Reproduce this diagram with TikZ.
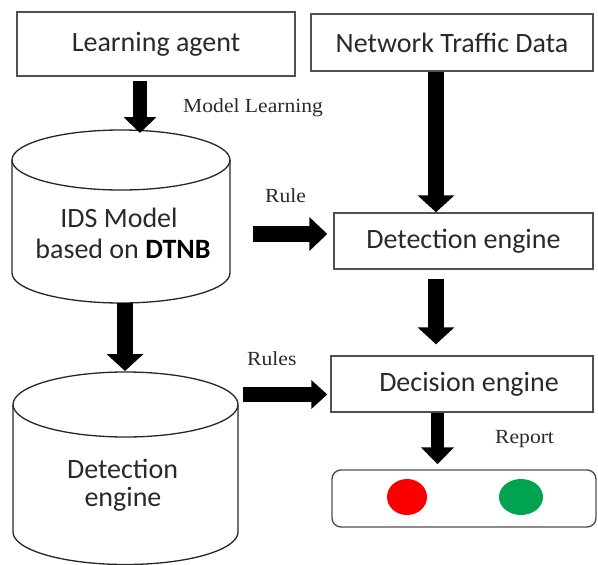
\documentclass[tikz,border=0pt]{standalone}
\usepackage{fontspec}
\setmainfont{Carlito}
\newfontfamily\serlbl{Liberation Serif}[FakeStretch=1.08]
\usetikzlibrary{arrows.meta,calc,shapes.geometric}
\definecolor{bordergray}{RGB}{80,80,80}
\definecolor{textdark}{RGB}{40,40,48}
\definecolor{repgreen}{RGB}{0,164,80}
\definecolor{repred}{RGB}{250,0,0}
\begin{document}
\begin{tikzpicture}[x=1pt,y=-1pt,
  box/.style={draw=bordergray, line width=1.4pt, inner sep=0pt, text=textdark,
    font=\fontsize{28}{33}\selectfont},
  cyltext/.style={inner sep=0pt, text=textdark, font=\fontsize{28}{33}\selectfont},
  cylline/.style={draw=black!85, line width=1.3pt},
  lbl/.style={inner sep=0pt, text=textdark, font=\serlbl\fontsize{20}{24}\selectfont},
  barrow/.style={line width=16pt, -{Triangle[length=17pt,width=36pt]}},
  barrowthin/.style={line width=14pt, -{Triangle[length=16pt,width=32pt]}},
  dot/.style={ellipse, inner sep=0pt}]
\useasboundingbox (0,0) rectangle (598,565);
% boxes
\node[box, minimum width=278pt, minimum height=64pt] (la) at (156,44) {Learning agent};
\node[box, minimum width=282pt, minimum height=57pt] (ntd) at (452,42.5) {Network Traffic Data};
\node[box, minimum width=259pt, minimum height=56pt] (det) at (463.5,241) {Detection engine};
\node[box, minimum width=262pt, minimum height=56pt] (dec) at (462,384) {\hspace*{14pt}Decision engine};
\node[box, rounded corners=9pt, minimum width=264pt, minimum height=57pt] (panel) at (464,498.5) {};
\node[dot, fill=repred, minimum width=40pt, minimum height=36pt] (red) at (407,497) {};
\node[dot, fill=repgreen, minimum width=44pt, minimum height=36pt] (green) at (521,497) {};
% cylinder 1
\draw[cylline] (12,160) -- (12,273) arc[start angle=180, end angle=0, x radius=109, y radius=30] -- (230,160);
\draw[cylline] (121,160) ellipse [x radius=109, y radius=30];
\node[cyltext, anchor=base] (c1a) at (119,227) {IDS Model};
\node[cyltext, anchor=base] (c1b) at (123,258) {based on \textbf{\color{black}DTNB}};
% cylinder 2
\draw[cylline] (13,404.5) -- (13,532) arc[start angle=180, end angle=0, x radius=112.5, y radius=32.5] -- (238,404.5);
\draw[cylline] (125.5,404.5) ellipse [x radius=112.5, y radius=32.5];
\node[cyltext, anchor=base] (c2a) at (122.5,478) {Detection};
\node[cyltext, anchor=base] (c2b) at (123,506) {engine};
% anchor coordinates
\coordinate (c1top) at (140,133);
\coordinate (c1bot) at (125,303);
\coordinate (c2top) at (125,371);
\coordinate (nx) at (436,0);
\coordinate (rx) at (437.5,0);
\coordinate (r1s) at (253,234);
\coordinate (r2s) at (243,394.5);
% arrows
\draw[barrowthin] ($(la.south -| c1top)+(0,4)$) -- (c1top);
\draw[barrow] (ntd.south -| nx) -- (det.north -| nx);
\draw[barrow] ($(det.south -| nx)+(0,9)$) -- ($(dec.north -| nx)+(0,-11)$);
\draw[barrow] (c1bot) -- (c2top);
\draw[line width=16pt, -{Triangle[length=18pt,width=33pt]}] (r1s) -- ($(det.west |- r1s)+(-6,0)$);
\draw[line width=15pt, -{Triangle[length=16pt,width=28pt]}] (r2s) -- ($(dec.west |- r2s)+(-3,0)$);
\draw[line width=13pt, -{Triangle[length=17pt,width=32pt]}] (dec.south -| rx) -- ($(panel.north -| rx)+(0,-5)$);
% labels
\node[lbl, anchor=base west] (ml) at (183,112) {Model Learning};
\node[lbl, anchor=base west] (rule) at (265,202) {Rule};
\node[lbl, anchor=base west] (rules) at (247,365) {Rules};
\node[lbl, anchor=base west] (report) at (495,443) {Report};
\end{tikzpicture}
\end{document}
